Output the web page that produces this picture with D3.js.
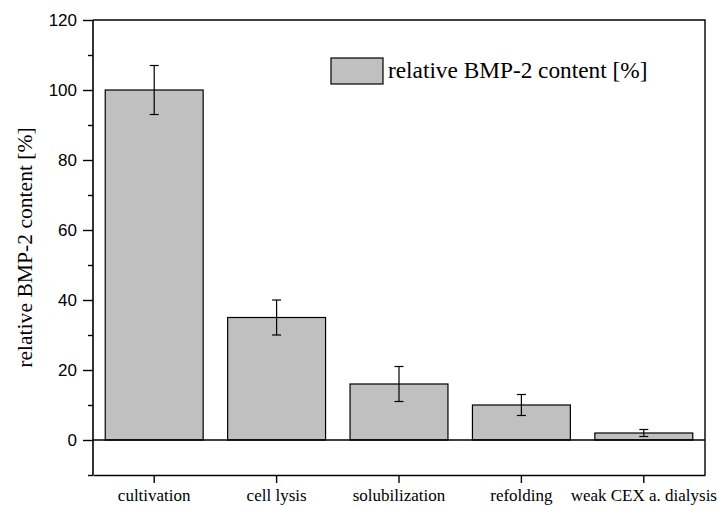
<!DOCTYPE html>
<html>
<head>
<meta charset="utf-8">
<script src="https://cdn.jsdelivr.net/npm/d3@7"></script>
<style>
  html, body { margin: 0; padding: 0; background: #fff; }
  svg { display: block; }
</style>
</head>
<body>
<svg id="chart" width="718" height="506"></svg>
<script>
// Process steps and their relative BMP-2 content with error
const categories = ["cultivation", "cell lysis", "solubilization", "refolding", "weak CEX a. dialysis"];
const values = [100, 35, 16, 10, 2];
const errors = [7, 5, 5, 3, 1];
const majorTicks = [0, 20, 40, 60, 80, 100, 120];
const minorTicks = [-10, 10, 30, 50, 70, 90, 110];
const seriesName = "relative BMP-2 content [%]";
const axisTitle = "relative BMP-2 content [%]";

const svg = d3.select("#chart");
const plotLeft = 93, plotRight = 705, plotTop = 20, plotBottom = 475;

const x = d3.scaleBand().domain(categories).range([plotLeft, plotRight]).paddingInner(0.2).paddingOuter(0.1);
const y = d3.scaleLinear().domain([-10, 120]).range([plotBottom, plotTop]);

const serif = "'Liberation Serif', 'Times New Roman', serif";
const sans = "'Liberation Sans', Arial, sans-serif";

// Bars
svg.append("g").selectAll("rect")
  .data(categories)
  .join("rect")
  .attr("x", d => x(d))
  .attr("width", x.bandwidth())
  .attr("y", (d, i) => y(values[i]))
  .attr("height", (d, i) => y(0) - y(values[i]))
  .attr("fill", "#c0c0c0")
  .attr("stroke", "#000")
  .attr("stroke-width", 1.2);

// Error bars
const eg = svg.append("g").attr("stroke", "#000").attr("stroke-width", 1.2);
categories.forEach((c, i) => {
  const cx = x(c) + x.bandwidth() / 2;
  const hi = y(values[i] + errors[i]);
  const lo = y(values[i] - errors[i]);
  eg.append("line").attr("x1", cx).attr("x2", cx).attr("y1", hi).attr("y2", lo);
  eg.append("line").attr("x1", cx - 4.5).attr("x2", cx + 4.5).attr("y1", hi).attr("y2", hi);
  eg.append("line").attr("x1", cx - 4.5).attr("x2", cx + 4.5).attr("y1", lo).attr("y2", lo);
});

// Zero line across the plot
svg.append("line")
  .attr("x1", plotLeft).attr("x2", plotRight)
  .attr("y1", y(0)).attr("y2", y(0))
  .attr("stroke", "#000").attr("stroke-width", 1.4);

// Frame: top and right borders
svg.append("path")
  .attr("d", `M${plotLeft},${plotTop}H${plotRight}V${plotBottom}`)
  .attr("fill", "none").attr("stroke", "#000").attr("stroke-width", 1.4);

// Y axis with major labelled ticks
const yAxis = d3.axisLeft(y).tickValues(majorTicks).tickSize(10).tickPadding(6).tickFormat(d3.format("d"));
const ya = svg.append("g").attr("transform", `translate(${plotLeft},0)`).call(yAxis);
ya.select(".domain").attr("stroke-width", 1.6).attr("d", `M0,${plotBottom}V${plotTop}`);
ya.selectAll(".tick line").attr("stroke-width", 1.4);
ya.selectAll(".tick text").attr("font-family", sans).attr("font-size", 17).attr("fill", "#000");

// Minor ticks
const yMinor = d3.axisLeft(y).tickValues(minorTicks).tickSize(5).tickFormat("");
const ym = svg.append("g").attr("transform", `translate(${plotLeft},0)`).call(yMinor);
ym.select(".domain").remove();
ym.selectAll(".tick line").attr("stroke-width", 1.4);

// X axis
const xAxis = d3.axisBottom(x).tickSize(8).tickPadding(6).tickSizeOuter(0);
const xa = svg.append("g").attr("transform", `translate(0,${plotBottom})`).call(xAxis);
xa.select(".domain").attr("stroke-width", 1.6);
xa.selectAll(".tick line").attr("stroke-width", 1.4);
xa.selectAll(".tick text").attr("font-family", serif).attr("font-size", 17).attr("fill", "#000");

// Y axis title
svg.append("text")
  .attr("transform", `translate(32,${(plotTop + plotBottom) / 2}) rotate(-90)`)
  .attr("text-anchor", "middle")
  .attr("font-family", serif).attr("font-size", 21.6)
  .text(axisTitle);

// Legend
const lg = svg.append("g").attr("transform", "translate(331,58)");
lg.append("rect").attr("width", 52).attr("height", 26)
  .attr("fill", "#c0c0c0").attr("stroke", "#000").attr("stroke-width", 1.2);
lg.append("text").attr("x", 57).attr("y", 20)
  .attr("font-family", serif).attr("font-size", 23.3)
  .text(seriesName);
</script>
</body>
</html>
